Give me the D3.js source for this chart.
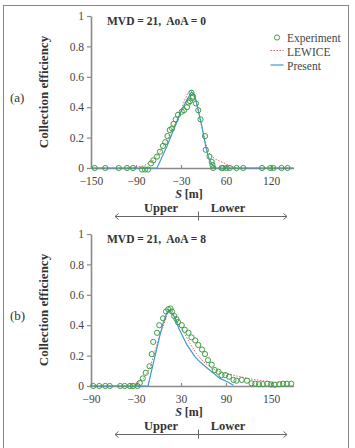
<!DOCTYPE html>
<html>
<head>
<meta charset="utf-8">
<title>Collection efficiency</title>
<script src="https://cdn.jsdelivr.net/npm/d3@7"></script>
<style>
body { margin: 0; background: #fff; }
svg text { font-family: "Liberation Serif", "DejaVu Serif", serif; }
</style>
</head>
<body>
<div id="chart"></div>
<script>
// panel (a): MVD = 21, AoA = 0
var expA = [[-145,0],[-131,0],[-113,0],[-102,0],[-94,0],[-82,-0.01],[-78,-0.01],[-74,-0.01],
  [-70,0.03],[-67,0.05],[-62,0.075],[-58,0.107],[-54,0.145],[-51,0.17],[-48,0.21],[-45,0.25],
  [-42,0.26],[-40,0.29],[-37,0.32],[-34,0.35],[-29,0.37],[-26,0.38],[-22,0.40],[-20,0.43],
  [-18,0.44],[-16,0.495],[-14,0.47],[-15,0.46],[-10,0.425],[-7,0.38],[-4,0.32],[2,0.21],
  [3,0.12],[8,0.075],[11,0.04],[12,0.02],[13,0],[24,0],[26,0],[31,0],[35,0],[44,0],[53,0],
  [78,0],[89,0],[93,0],[104,0],[112,0]];
var lewiceA = [[-150,0],[-107,0],[-94,0.003],[-80,0.013],[-67,0.05],[-58,0.107],[-49,0.18],
  [-40,0.27],[-31,0.36],[-25,0.45],[-20,0.50],[-17,0.51],[-14,0.50],[-10,0.45],[-5,0.33],
  [1,0.2],[5,0.13],[9,0.085],[15,0.06],[22,0.045],[35,0.015],[45,0],[120,0]];
var presentA = [[-150,0],[-62,0],[-49,0.14],[-40,0.25],[-31,0.36],[-22,0.45],[-16,0.50],
  [-12,0.48],[-8,0.40],[-2,0.27],[3,0.14],[7,0.064],[12,0.02],[15,0],[120,0]];

// panel (b): MVD = 21, AoA = 8
var expB = [[-87,0],[-79,0],[-71,0],[-65,0],[-51,0],[-45,0],[-38,0],[-34,0],[-28,0],
  [-25,0.02],[-21,0.05],[-17,0.087],[-12,0.13],[-9,0.21],[-7,0.29],[-2,0.35],[1,0.40],
  [6,0.445],[10,0.49],[13,0.505],[16,0.51],[18,0.49],[21,0.46],[24,0.44],[26,0.42],[31,0.40],
  [35,0.37],[40,0.35],[44,0.32],[49,0.30],[53,0.27],[58,0.24],[62,0.21],[66,0.17],[71,0.14],
  [75,0.105],[80,0.094],[84,0.072],[89,0.072],[94,0.061],[100,0.04],[104,0.035],[111,0.04],
  [118,0.035],[124,0.018],[129,0.015],[134,0.012],[139,0.012],[145,0.015],[150,0.01],
  [155,0.008],[161,0.012],[166,0.015],[171,0.015],[177,0.015]];
var lewiceB = [[-90,0],[-42,0],[-25,0.028],[-18,0.06],[-11,0.127],[-5,0.226],[2,0.336],
  [9,0.43],[13,0.49],[17,0.505],[24,0.43],[33,0.36],[42,0.28],[51,0.21],[60,0.16],[71,0.116],
  [82,0.094],[104,0.066],[126,0.044],[149,0.028],[166,0.018]];
var presentB = [[-90,0],[-14,0],[2,0.336],[6,0.41],[11,0.48],[14,0.50],[22,0.45],[27,0.38],
  [38,0.27],[49,0.19],[55,0.16],[62,0.13],[71,0.094],[82,0.05],[91,0.03],[100,0.005]];

var yTicks = [0, 0.2, 0.4, 0.6, 0.8, 1];
var yTickLabels = ["0", "0.2", "0.4", "0.6", "0.8", "1"];
var xTicksA = [-150, -90, -30, 30, 90];
var xTickLabelsA = ["\u2212150", "\u221290", "\u221230", "60", "120"];
var xTicksB = [-90, -30, 30, 90, 150];
var xTickLabelsB = ["\u221290", "\u221230", "30", "90", "150"];
var legendNames = ["Experiment", "LEWICE", "Present"];

var green = "#3f9e44", red = "#e4646c", blue = "#3c9ad2";

var svg = d3.select("#chart").append("svg")
  .attr("width", 355).attr("height", 448);

svg.append("rect")
  .attr("x", 3.5).attr("y", 5.5).attr("width", 345).attr("height", 460)
  .attr("fill", "none").attr("stroke", "#888").attr("stroke-width", 1);

function panel(top, dom, xt, xl, exp, lew, pre, tag, title, legend) {
  var x = d3.scaleLinear().domain(dom).range([91, 293.5]);
  var y = d3.scaleLinear().domain([0, 1]).range([top + 152, top]);
  var g = svg.append("g");

  var xa = g.append("g").attr("transform", "translate(0," + (top + 152) + ")")
    .call(d3.axisBottom(x).tickValues(xt).tickSize(-3).tickSizeOuter(0).tickPadding(8.5)
      .tickFormat(function (d, i) { return xl[i]; }));
  var ya = g.append("g").attr("transform", "translate(91,0)")
    .call(d3.axisLeft(y).tickValues(yTicks).tickSize(4).tickSizeOuter(0).tickPadding(3)
      .tickFormat(function (d, i) { return yTickLabels[i]; }));
  [xa, ya].forEach(function (a) {
    a.select(".domain").attr("stroke", "#8a8a8a").attr("stroke-width", 1.6);
    a.selectAll(".tick line").attr("stroke", "#8a8a8a").attr("stroke-width", 1.2);
    a.selectAll(".tick text").attr("font-size", 11.5).attr("fill", "#444")
      .attr("font-family", "Liberation Serif");
  });

  var line = d3.line().x(function (d) { return x(d[0]); }).y(function (d) { return y(d[1]); });
  g.append("path").datum(lew).attr("d", line).attr("fill", "none")
    .attr("stroke", red).attr("stroke-width", 1).attr("stroke-dasharray", "1.5,1.5");
  g.append("path").datum(pre).attr("d", line).attr("fill", "none")
    .attr("stroke", blue).attr("stroke-width", 1.2);
  g.selectAll("circle.exp").data(exp).enter().append("circle")
    .attr("class", "exp")
    .attr("cx", function (d) { return x(d[0]); })
    .attr("cy", function (d) { return y(d[1]); })
    .attr("r", 2.6).attr("fill", "none").attr("stroke", green).attr("stroke-width", 1);

  g.append("text").attr("x", 107).attr("y", top + 9)
    .attr("font-size", 11.5).attr("font-weight", "bold").attr("fill", "#333")
    .attr("xml:space", "preserve").text(title);

  g.append("text").attr("transform", "translate(48," + (top + 76) + ") rotate(-90)")
    .attr("text-anchor", "middle").attr("font-size", 13).attr("font-weight", "bold")
    .attr("fill", "#333").text("Collection efficiency");
  g.append("text").attr("x", 10).attr("y", top + 86).attr("font-size", 13)
    .attr("fill", "#333").text(tag);

  var xl2 = g.append("text").attr("x", 189).attr("y", top + 181.5).attr("text-anchor", "middle")
    .attr("font-size", 12).attr("font-weight", "bold").attr("fill", "#333");
  xl2.append("tspan").attr("font-style", "italic").text("S");
  xl2.append("tspan").text(" [m]");

  g.append("text").attr("x", 161).attr("y", top + 195.5).attr("text-anchor", "middle")
    .attr("font-size", 12.5).attr("font-weight", "bold").attr("fill", "#333").text("Upper");
  g.append("text").attr("x", 228).attr("y", top + 195.5).attr("text-anchor", "middle")
    .attr("font-size", 12.5).attr("font-weight", "bold").attr("fill", "#333").text("Lower");

  var ay = top + 200.5;
  var ar = g.append("g").attr("stroke", "#666").attr("stroke-width", 1).attr("fill", "none");
  ar.append("line").attr("x1", 115).attr("x2", 287).attr("y1", ay).attr("y2", ay);
  ar.append("path").attr("d", "M118.5," + (ay - 3) + "L115," + ay + "L118.5," + (ay + 3));
  ar.append("path").attr("d", "M283.5," + (ay - 3) + "L287," + ay + "L283.5," + (ay + 3));
  ar.append("line").attr("x1", 198.5).attr("x2", 198.5).attr("y1", ay - 5).attr("y2", ay + 4);

  if (legend) {
    var lg = g.append("g");
    lg.append("circle").attr("cx", 277).attr("cy", top + 21.5).attr("r", 2.6)
      .attr("fill", "none").attr("stroke", green);
    lg.append("line").attr("x1", 270.5).attr("x2", 283.5).attr("y1", top + 34.5).attr("y2", top + 34.5)
      .attr("stroke", red).attr("stroke-dasharray", "1.5,1.5");
    lg.append("line").attr("x1", 270.5).attr("x2", 283.5).attr("y1", top + 49).attr("y2", top + 49)
      .attr("stroke", blue).attr("stroke-width", 1.2);
    lg.selectAll("text").data(legendNames).enter().append("text")
      .attr("x", 287).attr("y", function (d, i) { return top + 25.5 + i * 14; })
      .attr("font-size", 11.5).attr("fill", "#444").text(function (d) { return d; });
  }
}

panel(16, [-150, 120], xTicksA, xTickLabelsA, expA, lewiceA, presentA, "(a)", "MVD = 21,  AoA = 0", true);
panel(234, [-90, 180], xTicksB, xTickLabelsB, expB, lewiceB, presentB, "(b)", "MVD = 21,  AoA = 8", false);
</script>
</body>
</html>
